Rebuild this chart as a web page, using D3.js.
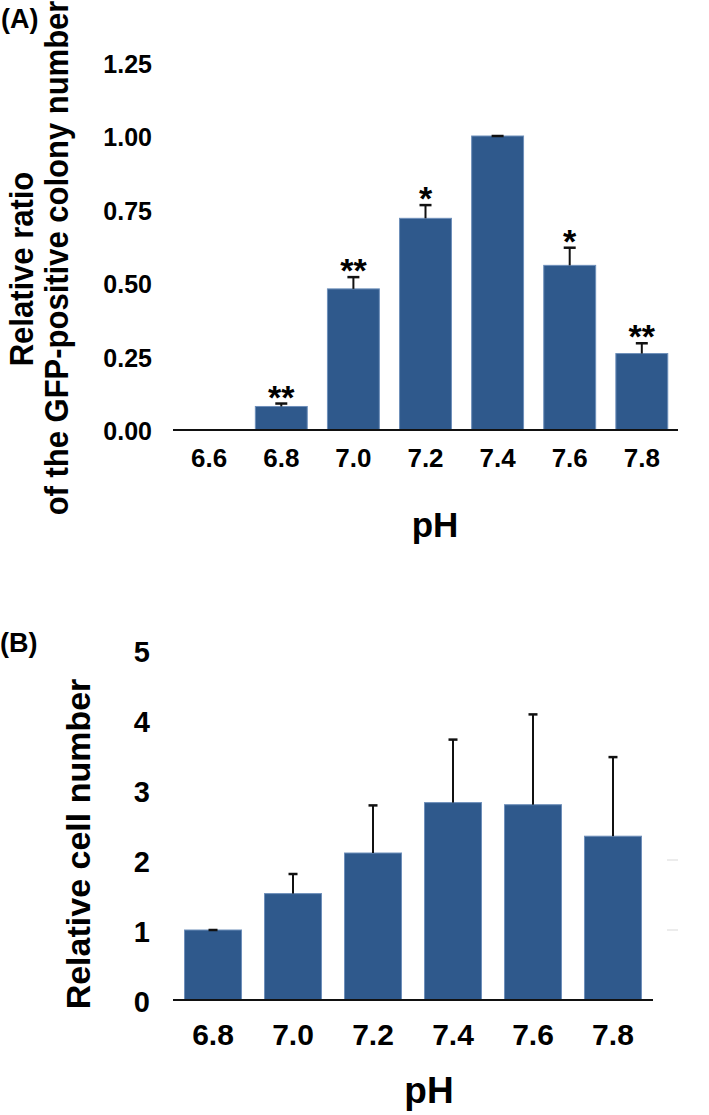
<!DOCTYPE html>
<html>
<head>
<meta charset="utf-8">
<script src="https://cdn.jsdelivr.net/npm/d3@7"></script>
<style>
  html, body { margin: 0; padding: 0; background: #fff; }
  svg text { font-family: "Liberation Sans", Arial, sans-serif; font-weight: bold; fill: #000; }
</style>
</head>
<body>
<svg id="chart" width="709" height="1115"></svg>
<script>
// ---------- Panel A data ----------
const catsA = ["6.6", "6.8", "7.0", "7.2", "7.4", "7.6", "7.8"];
const valuesA = [0, 0.08, 0.48, 0.72, 1.00, 0.56, 0.26];
const errorsA = [null, 0.01, 0.04, 0.045, 0.0, 0.06, 0.035];
const starsA = ["", "**", "**", "*", "", "*", "**"];
const ticksA = [0, 0.25, 0.5, 0.75, 1.0, 1.25];

// ---------- Panel B data ----------
const catsB = ["6.8", "7.0", "7.2", "7.4", "7.6", "7.8"];
const valuesB = [1.00, 1.52, 2.10, 2.82, 2.79, 2.34];
const errorsB = [0.0, 0.28, 0.68, 0.90, 1.29, 1.13];
const ticksB = [0, 1, 2, 3, 4, 5];

const barFill = "#2F598C";
const barStroke = "#6E8FBA";

const svg = d3.select("#chart");

function panel(opts) {
  const g = svg.append("g");
  const x = d3.scaleBand().domain(opts.cats).range(opts.xRange)
    .paddingInner(opts.pInner).paddingOuter(opts.pOuter);
  const y = d3.scaleLinear().domain(opts.yDomain).range(opts.yRange);
  const data = opts.cats.map((c, i) => ({ c, v: opts.values[i], e: opts.errors[i], s: opts.stars ? opts.stars[i] : "" }));

  // faint right-edge gridline stubs (panel B artefacts)
  if (opts.stubs) {
    g.selectAll("line.stub").data(opts.stubs).join("line")
      .attr("x1", opts.xRange[1] + 14).attr("x2", opts.xRange[1] + 25)
      .attr("y1", d => y(d)).attr("y2", d => y(d))
      .attr("stroke", "#d9d9d9").attr("stroke-width", 1);
  }

  // bars
  g.selectAll("rect.bar").data(data.filter(d => d.v > 0)).join("rect")
    .attr("x", d => x(d.c)).attr("width", x.bandwidth())
    .attr("y", d => y(d.v)).attr("height", d => y(0) - y(d.v))
    .attr("fill", barFill).attr("stroke", barStroke).attr("stroke-width", 1);

  // error bars
  const eb = data.filter(d => d.e !== null && d.v > 0);
  const cx = d => x(d.c) + x.bandwidth() / 2;
  g.selectAll("line.err").data(eb).join("line")
    .attr("x1", cx).attr("x2", cx)
    .attr("y1", d => y(d.v)).attr("y2", d => y(d.v + d.e))
    .attr("stroke", "#111").attr("stroke-width", 2);
  g.selectAll("line.cap").data(eb).join("line")
    .attr("x1", d => cx(d) - opts.cap / 2).attr("x2", d => cx(d) + opts.cap / 2)
    .attr("y1", d => y(d.v + d.e)).attr("y2", d => y(d.v + d.e))
    .attr("stroke", "#111").attr("stroke-width", 2.5);

  // significance stars
  if (opts.stars) {
    g.selectAll("text.star").data(eb.filter(d => d.s)).join("text")
      .attr("x", cx).attr("y", d => y(d.v + d.e) + opts.starDy)
      .attr("text-anchor", "middle").style("font-size", opts.starSize + "px")
      .text(d => d.s);
  }

  // x axis
  const xa = g.append("g").attr("transform", `translate(0,${y(0)})`)
    .call(d3.axisBottom(x).tickSize(0).tickPadding(0));
  xa.select(".domain").remove();
  xa.selectAll("text").attr("dy", null).attr("y", opts.xTickY)
    .style("font-size", opts.xTickSize + "px").attr("fill", "#000")
    .style("font-family", '"Liberation Sans", Arial, sans-serif');
  g.append("line").attr("x1", opts.xRange[0]).attr("x2", opts.xRange[1])
    .attr("y1", y(0)).attr("y2", y(0)).attr("stroke", "#111").attr("stroke-width", 2);

  // y axis
  const ya = g.append("g").attr("transform", `translate(${opts.xRange[0]},0)`)
    .call(d3.axisLeft(y).tickValues(opts.ticks).tickFormat(opts.fmt).tickSize(0).tickPadding(opts.yPad));
  ya.select(".domain").remove();
  ya.selectAll("text").attr("dy", "0.38em")
    .style("font-size", opts.yTickSize + "px").attr("fill", "#000")
    .style("font-family", '"Liberation Sans", Arial, sans-serif');
  return { x, y };
}

// Panel A
panel({
  cats: catsA, values: valuesA, errors: errorsA, stars: starsA, ticks: ticksA,
  xRange: [173, 678], pInner: 0.28, pOuter: 0.142,
  yDomain: [0, 1.25], yRange: [430, 62.5],
  fmt: d3.format(".2f"), yPad: 21, yTickSize: 25, xTickSize: 26, xTickY: 37,
  cap: 12, starDy: 5, starSize: 34
});
// Panel B
panel({
  cats: catsB, values: valuesB, errors: errorsB, stars: null, ticks: ticksB,
  xRange: [173, 653], pInner: 0.2875, pOuter: 0.144,
  yDomain: [0, 5], yRange: [1000, 650],
  fmt: d3.format("d"), yPad: 23, yTickSize: 29, xTickSize: 30, xTickY: 45,
  cap: 9, starDy: 0, starSize: 0, stubs: [1, 2]
});

// Panel labels
svg.append("text").attr("x", 1).attr("y", 28).style("font-size", "27px").text("(A)");
svg.append("text").attr("x", 0).attr("y", 652).style("font-size", "27px").text("(B)");

// Axis titles
svg.append("text").attr("x", 435).attr("y", 537).attr("text-anchor", "middle").style("font-size", "35px").text("pH");
svg.append("text").attr("x", 429).attr("y", 1103).attr("text-anchor", "middle").style("font-size", "37px").text("pH");

svg.append("text").attr("transform", "translate(33,269) scale(1.05,1) rotate(-90)")
  .attr("text-anchor", "middle").style("font-size", "31px").text("Relative ratio");
svg.append("text").attr("transform", "translate(68,258) scale(1.05,1) rotate(-90)")
  .attr("text-anchor", "middle").style("font-size", "31px").text("of the GFP-positive colony number");
svg.append("text").attr("transform", "translate(90,844) rotate(-90)")
  .attr("text-anchor", "middle").style("font-size", "34px").text("Relative cell number");
</script>
</body>
</html>
